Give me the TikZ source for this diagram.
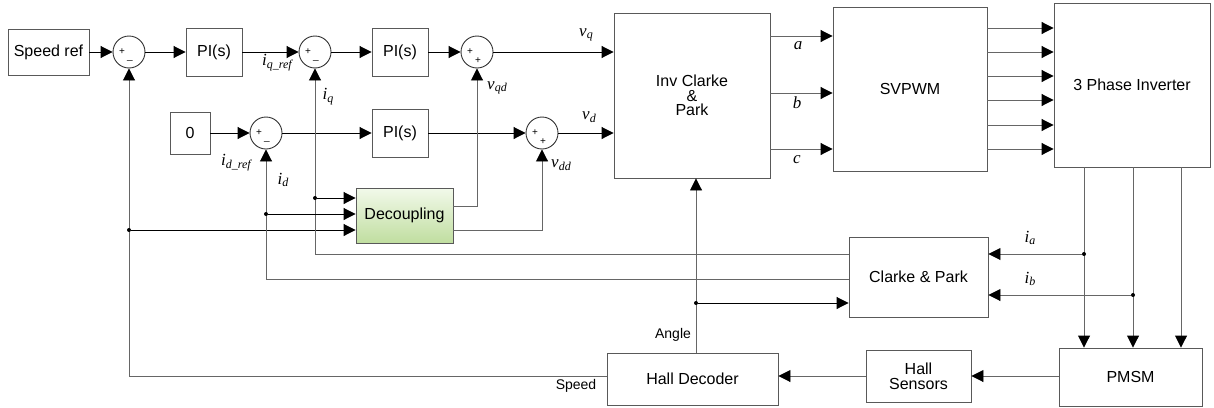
\documentclass[tikz,border=0pt]{standalone}
\usepackage{fontspec}
\setmainfont{Liberation Sans}
\newfontfamily\tmsfont{Liberation Serif}
\usetikzlibrary{arrows.meta}
\newcommand{\mlab}[2]{{\tmsfont\itshape\fontsize{17}{18}\selectfont #1\raisebox{-0.35ex}{\fontsize{12}{12}\selectfont #2}}}
\tikzset{
  blk/.style={draw=black!65, line width=0.9pt, align=center, inner sep=0pt,
    font=\fontsize{16}{15}\selectfont},
  sumc/.style={circle, draw=black!80, line width=0.9pt, minimum size=32pt, inner sep=0pt},
  sgn/.style={inner sep=0pt, font=\fontsize{10}{10}\selectfont},
  arr/.style={-{Triangle[length=12pt,width=12pt,color=black]}, line width=0.9pt, draw=black},
  garr/.style={-{Triangle[length=12pt,width=12pt,color=black]}, line width=0.9pt, draw=black!60},
  jdot/.style={circle, fill=black, inner sep=0pt, minimum size=4pt},
  lab/.style={inner sep=0pt},
  slab/.style={inner sep=0pt, font=\fontsize{14}{14}\selectfont},
}
\begin{document}
\begin{tikzpicture}[x=1pt,y=-1pt]
\useasboundingbox (0,0) rectangle (1214,407);
% blocks
\node[blk, minimum width=81pt, minimum height=46pt] (sref) at (48.5,52) {Speed ref};
\node[blk, minimum width=56pt, minimum height=48pt] (pi1) at (214,52) {PI(s)};
\node[blk, minimum width=56pt, minimum height=48pt] (pi2) at (400,52) {PI(s)};
\node[blk, minimum width=40pt, minimum height=42pt] (zero) at (190,133) {0};
\node[blk, minimum width=56pt, minimum height=48pt] (pi3) at (400,133) {PI(s)};
\node[blk, minimum width=156pt, minimum height=165pt, font=\fontsize{16}{14.5}\selectfont] (inv) at (692,95.5) {Inv Clarke\\\&\\Park};
\node[blk, minimum width=154pt, minimum height=164pt] (svpwm) at (910,89) {SVPWM};
\node[blk, minimum width=156pt, minimum height=164pt] (inverter) at (1132,85) {3 Phase Inverter};
\node[blk, minimum width=139pt, minimum height=80pt] (clarke) at (918.5,277) {Clarke \& Park};
\node[blk, minimum width=97pt, minimum height=55pt,
  top color={rgb,255:red,242;green,249;blue,234},
  bottom color={rgb,255:red,192;green,222;blue,160}] (dec) at (404.5,215.5) {Decoupling};
\node[blk, minimum width=171pt, minimum height=52pt] (halldec) at (692.5,379) {Hall Decoder};
\node[blk, minimum width=105pt, minimum height=52pt] (hallsens) at (918.5,376) {Hall\\Sensors};
\node[blk, minimum width=143pt, minimum height=58pt] (pmsm) at (1130.5,377) {PMSM};
% sums
\node[sumc] (s1) at (129,52) {};
\node[sumc] (s2) at (315,52) {};
\node[sumc] (s3) at (266,133) {};
\node[sumc] (s4) at (477,52) {};
\node[sumc] (s5) at (542,133) {};
\foreach \s in {s1,s2,s3}{
  \node[sgn, xshift=-7pt] (\s p) at (\s) {+};
  \node[sgn, anchor=base, xshift=1pt, yshift=-7pt] (\s m) at (\s) {\_};
}
\foreach \s in {s4,s5}{
  \node[sgn, xshift=-7pt] (\s p) at (\s) {+};
  \node[sgn, xshift=1pt, yshift=-9pt] (\s q) at (\s) {+};
}
% helper coordinates
\coordinate (ya) at (0,36);
\coordinate (yb) at (0,93);
\coordinate (yc) at (0,149);
\coordinate (xang) at (696,0);
\coordinate (yiq) at (0,254);
\coordinate (yid) at (0,279);
\coordinate (yqd) at (0,206);
\coordinate (ydd) at (0,230);
% forward paths
\draw[arr] (sref) -- (s1);
\draw[arr] (s1) -- (pi1);
\draw[arr] (pi1) -- (s2);
\draw[arr] (s2) -- (pi2);
\draw[arr] (pi2) -- (s4);
\draw[arr] (s4) -- (s4 -| inv.west);
\draw[arr] (zero) -- (s3);
\draw[arr] (s3) -- (pi3);
\draw[arr] (pi3) -- (s5);
\draw[arr] (s5) -- (s5 -| inv.west);
\draw[garr] (inv.east |- ya) -- (svpwm.west |- ya);
\draw[garr] (inv.east |- yb) -- (svpwm.west |- yb);
\draw[garr] (inv.east |- yc) -- (svpwm.west |- yc);
\foreach \y [count=\i] in {28,52,76,100,125,149}{
  \coordinate (yo\i) at (0,\y);
  \draw[garr] (svpwm.east |- yo\i) -- (inverter.west |- yo\i);
}
\foreach \x [count=\i] in {1084,1133,1181}{
  \coordinate (xo\i) at (\x,0);
  \draw[garr] (inverter.south -| xo\i) -- (pmsm.north -| xo\i);
}
% current measurements
\node[jdot] (ja) at (1084,254) {};
\node[jdot] (jb) at (1133,295) {};
\draw[garr] (ja) -- (clarke.east |- ja);
\draw[garr] (jb) -- (clarke.east |- jb);
% hall chain
\draw[garr] (pmsm.west |- hallsens.east) -- (hallsens.east);
\draw[garr] (hallsens.west) -- (halldec.east |- hallsens.west);
% angle
\draw[garr] (halldec.north -| xang) -- (inv.south -| xang);
\node[jdot] (jang) at (696,303) {};
\draw[arr] (jang) -- (clarke.west |- jang);
% speed feedback
\draw[garr] (halldec.west |- hallsens.west) -| (s1.south);
\node[jdot] (jsp) at (129,230) {};
\draw[arr] (jsp) -- (dec.west |- jsp);
% iq, id feedback
\draw[garr] (clarke.west |- yiq) -| (s2.south);
\draw[garr] (clarke.west |- yid) -| (s3.south);
\node[jdot] (jq) at (315,198) {};
\node[jdot] (jd) at (266,214) {};
\draw[arr] (jq) -- (dec.west |- jq);
\draw[arr] (jd) -- (dec.west |- jd);
% decoupling outputs
\draw[garr] (dec.east |- yqd) -| (s4.south);
\draw[garr] (dec.east |- ydd) -| (s5.south);
% labels
\node[lab] (liqr) at (277,63) {\mlab{i}{q\_ref}};
\node[lab] (liq) at (328,97) {\mlab{i}{q}};
\node[lab] (lidr) at (236,163) {\mlab{i}{d\_ref}};
\node[lab] (lid) at (283,180) {\mlab{i}{d}};
\node[lab] (lvq) at (586,35) {\mlab{v}{q}};
\node[lab] (lvqd) at (497,88) {\mlab{v}{qd}};
\node[lab] (lvd) at (589,117) {\mlab{v}{d}};
\node[lab] (lvdd) at (561,165) {\mlab{v}{dd}};
\node[lab] (la) at (798,47) {\mlab{a}{}};
\node[lab] (lb) at (797,104) {\mlab{b}{}};
\node[lab] (lc) at (797,161) {\mlab{c}{}};
\node[lab] (lia) at (1030,238) {\mlab{i}{a}};
\node[lab] (lib) at (1030,279) {\mlab{i}{b}};
\node[slab] (lang) at (673,335) {Angle};
\node[slab] (lspd) at (576,386) {Speed};
\end{tikzpicture}
\end{document}
